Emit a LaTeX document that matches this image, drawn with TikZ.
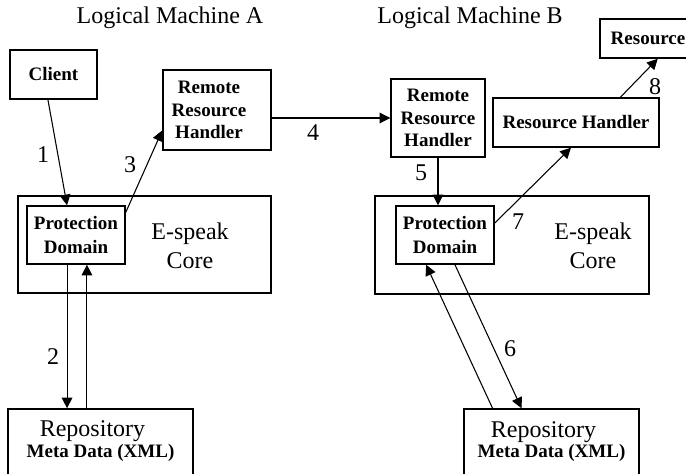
\documentclass[tikz,border=0pt]{standalone}
\usepackage{fontspec}
\setmainfont{Liberation Serif}
\usetikzlibrary{calc,arrows.meta}
\tikzset{>={Triangle[length=8pt,width=8pt]}}
\tikzset{
  box/.style={draw,line width=1.1pt,inner sep=0pt,align=center,
              font=\bfseries\fontsize{14.25}{17}\selectfont},
  btxt/.style={inner sep=0pt,align=center,font=\bfseries\fontsize{14.25}{17}\selectfont},
  rtxt/.style={inner sep=0pt,align=center,font=\fontsize{14.25}{15.5}\selectfont},
  lbl/.style={inner sep=0pt,align=center,font=\fontsize{18}{22}\selectfont},
  link/.style={line width=0.8pt},
}

\begin{document}
\begin{tikzpicture}[x=0.75pt,y=-0.75pt]
  \useasboundingbox (0,0) rectangle (686,474);
  \clip (0,0) rectangle (686,474);
  % 左边：逻辑机 A
  \node[lbl] (titleA) at (170,18) {Logical Machine A};
  \node[box,minimum width=65.25pt,minimum height=36.75pt] (client) at (53.5,74.5) {Client};
  \node[box,minimum width=81pt,minimum height=60pt] (rrhA) at (217,110) {};
  \node[btxt] (rrhAtext) at (209,110) {Remote\\Resource\\Handler};
  \node[box,minimum width=189.75pt,minimum height=72.75pt] (coreA) at (144.5,244.5) {};
  \node[lbl] (coreAtext) at (190,246) {E-speak\\Core};
  \node[box,minimum width=73.5pt,minimum height=43.5pt,
        font=\bfseries\fontsize{14.25}{18}\selectfont] (pdA) at (76,235) {Protection\\Domain};
  \node[box,minimum width=138.75pt,minimum height=56.25pt] (repoA) at (100.5,446.5) {};
  \node[rtxt] (repoAtext) at (100.5,441)
       {{\fontsize{18}{18}\selectfont Repository\kern12pt}\\\textbf{Meta Data (XML)}};
  % 右边：逻辑机 B
  \node[lbl] (titleB) at (470,18) {Logical Machine B};
  \node[box,minimum width=72pt,minimum height=29.25pt] (res) at (648,38.5) {Resource};
  \node[box,minimum width=70.5pt,minimum height=58.5pt] (rrhB) at (438,118) {Remote\\Resource\\Handler};
  \node[box,minimum width=124.5pt,minimum height=36.75pt] (rh) at (576,122.5) {Resource Handler};
  \node[box,minimum width=205.5pt,minimum height=73.5pt] (coreB) at (512,245) {};
  \node[lbl] (coreBtext) at (593,246) {E-speak\\Core};
  \node[box,minimum width=73.5pt,minimum height=43.5pt,
        font=\bfseries\fontsize{14.25}{18}\selectfont] (pdB) at (445,235) {Protection\\Domain};
  \node[box,minimum width=131.25pt,minimum height=56.25pt] (repoB) at (551.5,446.5) {};
  \node[rtxt] (repoBtext) at (551.5,441.5)
       {{\fontsize{18}{18}\selectfont Repository\kern12pt}\\\textbf{Meta Data (XML)}};
  % 箭头和编号
  \draw[link,->] ($(client.south west)!0.437!(client.south east)$) -- ($(pdA.north west)!0.41!(pdA.north east)$);
  \draw[link,->] ($(pdA.south west)!0.41!(pdA.south east)$) coordinate (d2) -- (d2 |- repoA.north);
  \draw[link,<-] ($(pdA.south west)!0.61!(pdA.south east)$) coordinate (u2) -- (u2 |- repoA.north);
  \draw[link,->] ($(pdA.north east)!0.12!(pdA.south east)$) -- ($(rrhA.north west)!0.75!(rrhA.south west)$);
  \draw[link,->] (rrhA.east |- rrhB.west) -- (rrhB.west);
  \draw[link,->] (rrhB.south) -- (rrhB.south |- pdB.north);
  \draw[link,->] ($(pdB.south west)!0.6!(pdB.south east)$) -- ($(repoB.north west)!0.33!(repoB.north east)$);
  \draw[link,->] ($(repoB.north west)!0.166!(repoB.north east)$) -- ($(pdB.south west)!0.31!(pdB.south east)$);
  \draw[link,->] ($(pdB.north east)!0.3!(pdB.south east)$) -- ($(rh.south west)!0.47!(rh.south east)$);
  \draw[link,->] ($(rh.north west)!0.765!(rh.north east)$) -- ($(res.south west)!0.6!(res.south east)$);
  \node[lbl] (n1) at (43,155) {1};
  \node[lbl] (n2) at (53,357) {2};
  \node[lbl] (n3) at (130,165) {3};
  \node[lbl] (n4) at (313,133) {4};
  \node[lbl] (n5) at (421,173) {5};
  \node[lbl] (n6) at (510,349) {6};
  \node[lbl] (n7) at (518,222) {7};
  \node[lbl] (n8) at (655,87) {8};
\end{tikzpicture}
\end{document}
